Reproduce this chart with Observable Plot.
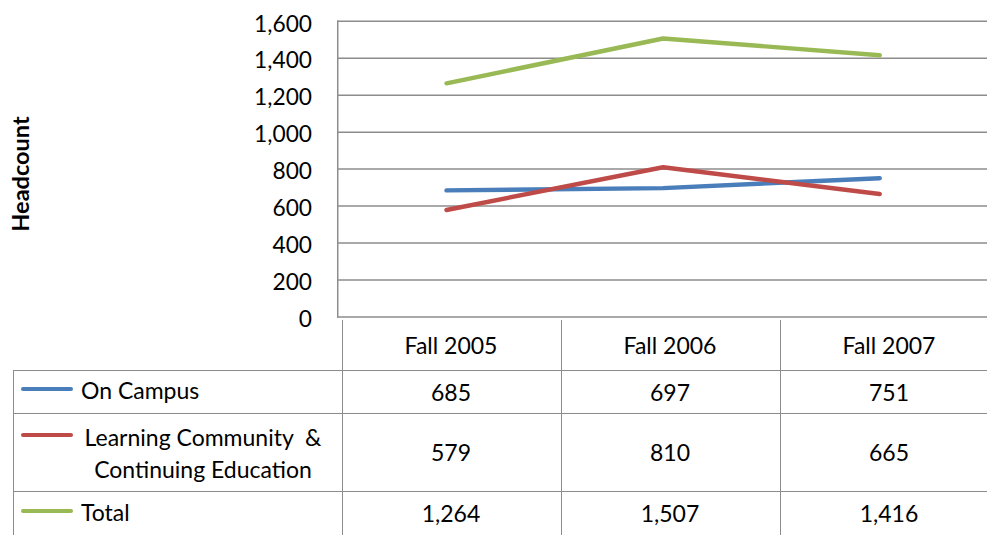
<!DOCTYPE html>
<html>
<head>
<meta charset="utf-8">
<script src="https://cdn.jsdelivr.net/npm/d3@7"></script>
<script src="https://cdn.jsdelivr.net/npm/@observablehq/plot@0.6"></script>
<style>
  html, body { margin: 0; padding: 0; background: #fff; }
  #wrap { position: relative; width: 987px; height: 535px; overflow: hidden; font-family: Lato, "Open Sans", sans-serif; color: #000; }
  #chart { position: absolute; left: 0; top: 0; }
  #ylabel { position: absolute; left: 20px; top: 174px; transform: translate(-50%, -50%) rotate(-90deg); font-weight: bold; font-size: 23.5px; white-space: nowrap; }
  .cell { position: absolute; box-sizing: border-box; font-size: 23px; display: flex; align-items: center; justify-content: center; }
  .hline { position: absolute; height: 0; border-top: 1.5px solid #8c8c8c; }
  .vline { position: absolute; width: 0; border-left: 1.5px solid #8c8c8c; }
  .key { position: absolute; left: 21px; width: 52px; height: 0; border-top: 4px solid; border-radius: 2px; }
  .leg { position: absolute; font-size: 23px; white-space: nowrap; }
</style>
</head>
<body>
<div id="wrap">
  <div id="chart"></div>
  <div id="ylabel">Headcount</div>
</div>
<script>
const categories = ["Fall 2005", "Fall 2006", "Fall 2007"];
const onCampus = [685, 697, 751];
const learningCommunity = [579, 810, 665];
const total = [1264, 1507, 1416];
const seriesNames = ["On Campus", "Learning Community & Continuing Education", "Total"];
const seriesValues = [onCampus, learningCommunity, total];
const seriesColors = ["#4a7ebb", "#be4b48", "#98b954"];
const yTicks = [0, 200, 400, 600, 800, 1000, 1200, 1400, 1600];

const data = [];
seriesNames.forEach((s, i) => categories.forEach((c, j) => data.push({series: s, cat: c, value: seriesValues[i][j]})));

const chart = Plot.plot({
  width: 998,
  height: 330,
  marginLeft: 341,
  marginRight: 0,
  marginTop: 21,
  marginBottom: 10,
  style: {fontFamily: "Lato, 'Open Sans', sans-serif", background: "transparent", overflow: "visible"},
  x: {type: "point", domain: categories, padding: 0.5, align: 0.5, axis: null},
  y: {domain: [0, 1600]},
  color: {domain: seriesNames, range: seriesColors},
  marks: [
    Plot.gridY(yTicks, {stroke: "#8c8c8c", strokeOpacity: 1, strokeWidth: 1.5}),
    Plot.frame({anchor: "left", stroke: "#8c8c8c", strokeWidth: 1.5}),
    Plot.axisY(yTicks, {tickSize: 0, tickPadding: 26, fontSize: 23, dy: 3, label: null, tickFormat: d3.format(","), fill: "#000"}),
    Plot.line(data, {x: "cat", y: "value", z: "series", stroke: "series", strokeWidth: 4.5, strokeLinecap: "round", strokeLinejoin: "round"})
  ]
});
document.getElementById("chart").appendChild(chart);

const wrap = document.getElementById("wrap");
const xs = chart.scale("x");
const centers = categories.map(c => xs.apply(c));
const step = centers[1] - centers[0];
const colLeft = centers.map(c => c - step / 2);
const left0 = 13, right = colLeft[colLeft.length - 1] + step;
const rows = [{top: 320, h: 50}, {top: 370, h: 43}, {top: 413, h: 78}, {top: 491, h: 44}];

function add(cls, style, html) {
  const d = document.createElement("div");
  d.className = cls;
  Object.assign(d.style, style);
  if (html != null) d.innerHTML = html;
  wrap.appendChild(d);
  return d;
}

// horizontal lines
[370, 413, 491, 535].forEach(y => add("hline", {left: left0 + "px", top: y + "px", width: (right - left0) + "px"}));
// vertical lines
add("vline", {left: left0 + "px", top: "370px", height: "165px"});
colLeft.forEach(x => add("vline", {left: x + "px", top: "320px", height: "215px"}));

// header cells
categories.forEach((c, j) => add("cell", {left: colLeft[j] + "px", top: rows[0].top + "px", width: step + "px", height: rows[0].h + "px"}, c));
// value cells
seriesValues.forEach((vals, i) => {
  const r = rows[i + 1];
  vals.forEach((v, j) => add("cell", {left: colLeft[j] + "px", top: r.top + "px", width: step + "px", height: r.h + "px"}, d3.format(",")(v)));
});

// legend cells
add("key", {top: "387px", borderColor: seriesColors[0]});
add("leg", {left: "81px", top: "376px"}, seriesNames[0]);
add("key", {top: "433px", borderColor: seriesColors[1]});
add("leg", {left: "76px", top: "421px", width: "254px", textAlign: "center", lineHeight: "32px"}, "Learning Community&nbsp; &amp;<br>Continuing Education");
add("key", {top: "509px", borderColor: seriesColors[2]});
add("leg", {left: "81px", top: "498px"}, seriesNames[2]);
</script>
</body>
</html>
